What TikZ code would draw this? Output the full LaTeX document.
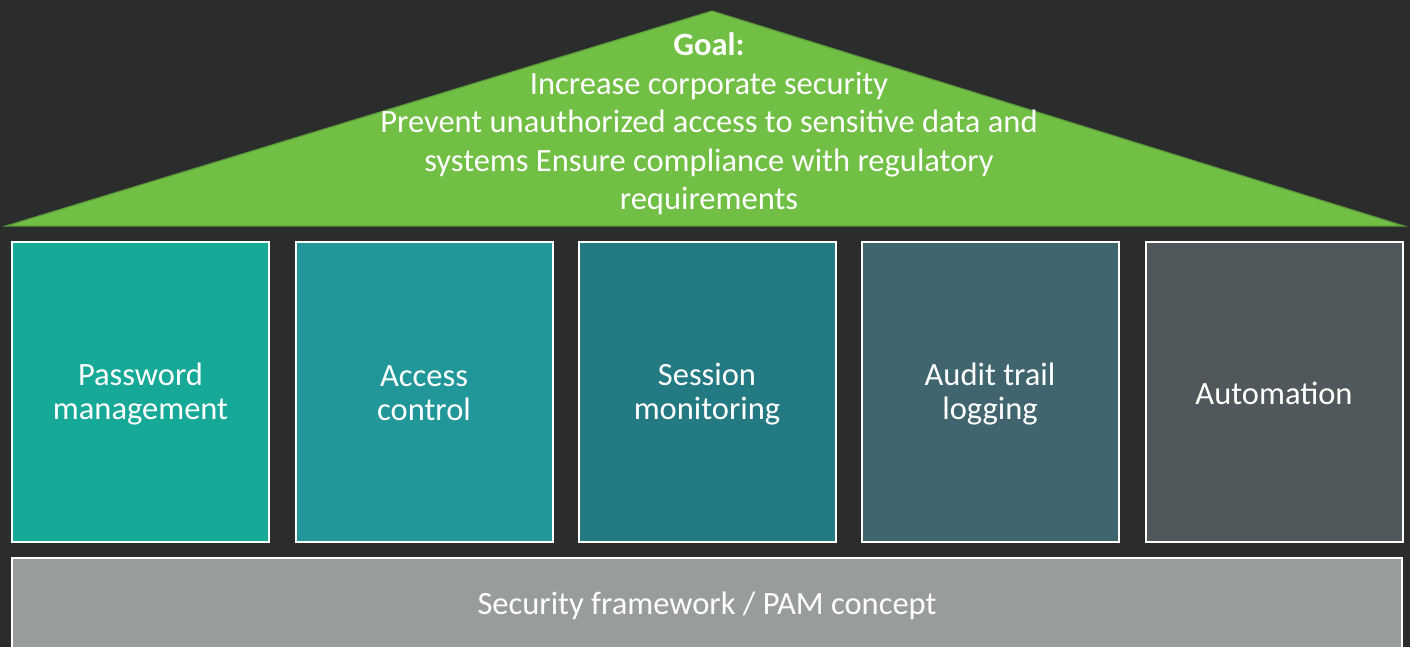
\documentclass[tikz,border=0pt]{standalone}
\usepackage{fontspec}
\setmainfont{Carlito}
\definecolor{bg}{HTML}{2B2C2C}
\definecolor{roof}{HTML}{71BF44}
\definecolor{roofedge}{HTML}{5C9A3C}
\definecolor{c1}{HTML}{17A997}
\definecolor{c2}{HTML}{22979A}
\definecolor{c3}{HTML}{247A83}
\definecolor{c4}{HTML}{41656F}
\definecolor{c5}{HTML}{51585B}
\definecolor{base}{HTML}{999C9D}
\tikzset{
  pillar/.style={draw=white, line width=2pt, minimum width=257pt, minimum height=300pt,
    inner sep=0pt, text=white, align=center, font=\fontsize{32.5}{34}\selectfont},
  pillartext/.style={text=white, align=center, inner sep=0pt, font=\fontsize{32.5}{34}\selectfont},
  goaltext/.style={text=white, align=center, inner sep=0pt, font=\fontsize{32.5}{38.5}\selectfont},
  basebox/.style={draw=white, line width=2pt, fill=base, minimum width=1390pt, minimum height=110pt,
    inner sep=0pt},
  basetext/.style={text=white, inner sep=0pt, font=\fontsize{32.5}{34}\selectfont}
}
\begin{document}
\begin{tikzpicture}[x=1pt,y=-1pt]
\fill[bg] (0,0) rectangle (1410,647);
\useasboundingbox (0,0) rectangle (1410,647);
% roof
\draw[roofedge, line width=1.2pt, fill=roof, line join=miter] (6,226) -- (712,11) -- (1404,226) -- cycle;
\node[goaltext] (goal) at (709,124) {\textbf{Goal:}\\Increase corporate security\\Prevent unauthorized access to sensitive data and\\systems Ensure compliance with regulatory\\requirements};
% pillars
\node[pillar, fill=c1] (p1) at (140.5,392) {};
\node[pillar, fill=c2] (p2) at (424,392) {};
\node[pillar, fill=c3] (p3) at (707,392) {};
\node[pillar, fill=c4] (p4) at (990,392) {};
\node[pillar, fill=c5] (p5) at (1274,392) {};
\node[pillartext] (t1) at (140.5,394) {Password\\management};
\node[pillartext] (t2) at (424,393) {Access\\control};
\node[pillartext] (t3) at (707,394) {Session\\monitoring};
\node[pillartext] (t4) at (990,394) {Audit trail\\logging};
\node[pillartext] (t5) at (1274,393) {Automation};
% base
\node[basebox] (base) at (707,613) {};
\node[basetext] (basetxt) at (707,606) {Security framework / PAM concept};
\end{tikzpicture}
\end{document}
